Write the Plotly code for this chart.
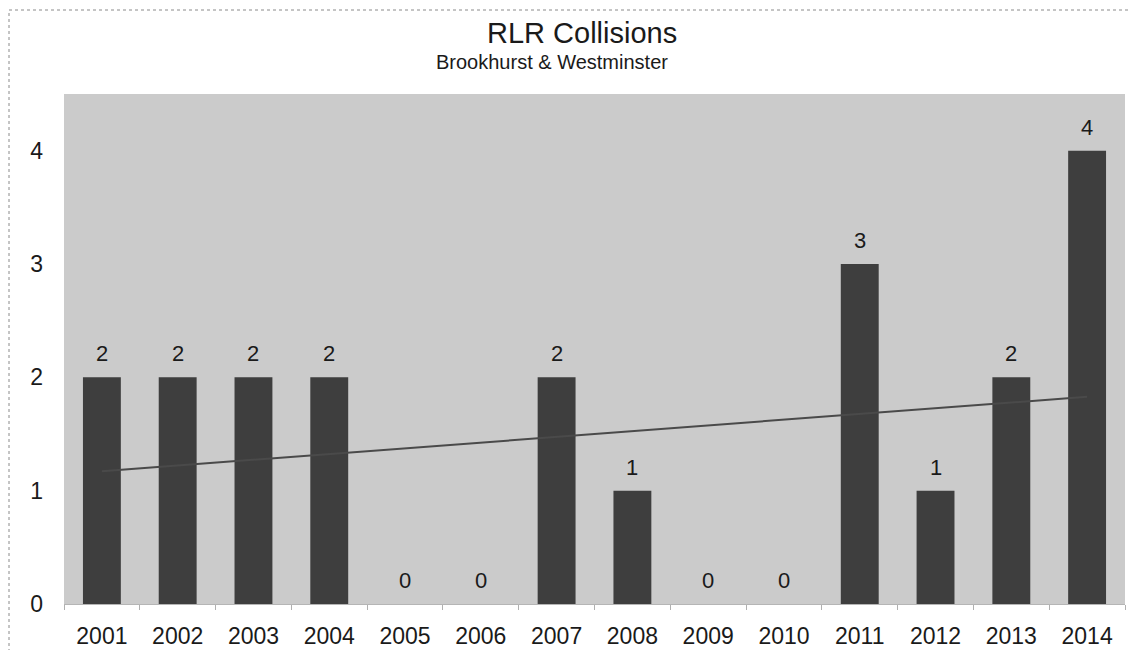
import numpy as np
import plotly.graph_objects as go

years = ["2001", "2002", "2003", "2004", "2005", "2006", "2007",
         "2008", "2009", "2010", "2011", "2012", "2013", "2014"]
collisions = [2, 2, 2, 2, 0, 0, 2, 1, 0, 0, 3, 1, 2, 4]
y_ticks = [0, 1, 2, 3, 4]

title_text = "RLR Collisions"
subtitle_text = "Brookhurst &amp; Westminster"

FONT = "Liberation Sans"
TXT = "#1a1a1a"

# linear trend line computed from the data
xi = np.arange(1, len(collisions) + 1)
slope, intercept = np.polyfit(xi, collisions, 1)
trend = slope * xi + intercept

fig = go.Figure()
fig.add_trace(go.Bar(
    x=years, y=collisions,
    marker=dict(color="#3e3e3e", line=dict(width=0)),
    hoverinfo="x+y", showlegend=False,
))
fig.add_trace(go.Scatter(
    x=[years[0], years[-1]], y=[trend[0], trend[-1]],
    mode="lines", line=dict(color="#4a4a4a", width=2),
    showlegend=False, hoverinfo="skip",
))

annotations = []
for i, v in enumerate(collisions):
    annotations.append(dict(
        x=i, y=v, xref="x", yref="y", text=str(v), showarrow=False,
        yanchor="bottom", yshift=9,
        font=dict(family=FONT, size=22, color=TXT),
    ))

# page is rendered with an 8px body margin: plot area spans page x 64..1125, y 94..604
PW, PH = 1061, 510
annotations += [
    dict(x=(582 - 64) / PW, y=1 + (94 - 33) / PH, xref="paper", yref="paper",
         xanchor="center", yanchor="middle", text=title_text, showarrow=False,
         font=dict(family=FONT, size=29, color=TXT)),
    dict(x=(552 - 64) / PW, y=1 + (94 - 62) / PH, xref="paper", yref="paper",
         xanchor="center", yanchor="middle", text=subtitle_text, showarrow=False,
         font=dict(family=FONT, size=20, color=TXT)),
]

fig.update_layout(
    width=1122, height=642,
    margin=dict(l=56, r=5, t=86, b=46),
    paper_bgcolor="white",
    plot_bgcolor="#cbcbcb",
    bargap=0.5,
    font=dict(family=FONT, size=24, color=TXT),
    annotations=annotations,
    shapes=[
        dict(type="line", xref="paper", yref="paper",
             x0=-55 / PW, x1=1.02, y0=1 + (94 - 10) / PH, y1=1 + (94 - 10) / PH,
             line=dict(color="#8a8a8a", width=1, dash="dot")),
        dict(type="line", xref="paper", yref="paper",
             x0=-55 / PW, x1=-55 / PW, y0=-0.2, y1=1 + (94 - 10) / PH,
             line=dict(color="#8a8a8a", width=1, dash="dot")),
    ],
    xaxis=dict(
        type="category", showgrid=False, zeroline=False, automargin=False,
        showline=True, linecolor="#b5b5b5", linewidth=1,
        ticks="outside", tickson="boundaries", ticklen=5, tickcolor="#b0b0b0",
        ticklabelstandoff=11, tickangle=0,
        tickfont=dict(family=FONT, size=23, color=TXT),
    ),
    yaxis=dict(
        range=[0, 4.5], tickvals=y_ticks, showgrid=False, zeroline=False,
        automargin=False, showline=False, ticks="", ticklabelstandoff=20,
        tickfont=dict(family=FONT, size=23, color=TXT),
    ),
)

fig.write_html("out.html")
